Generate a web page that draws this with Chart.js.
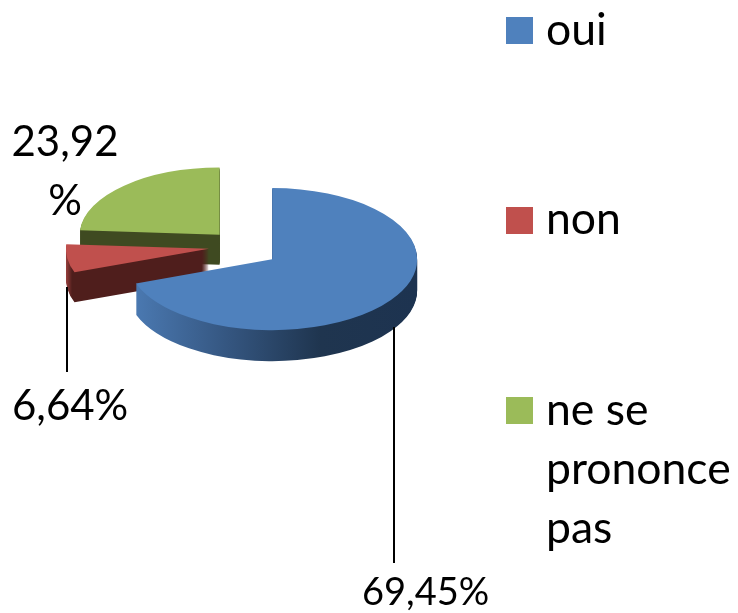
<!DOCTYPE html>
<html><head><meta charset="utf-8">
<style>html,body{margin:0;padding:0;background:#fff}canvas{display:block}</style>
<script src="https://cdn.jsdelivr.net/npm/chart.js@4/dist/chart.umd.min.js"></script>
</head><body>
<canvas id="c" width="738" height="613"></canvas>
<script>
const categories = ['oui', 'non', 'ne se prononce pas'];
const values = [69.45, 6.64, 23.92];
const colors = ['#4F81BD', '#C0504D', '#9BBB59'];
const legendLines = [['oui'], ['non'], ['ne se', 'prononce', 'pas']];
const valueLabels = [['69,45%'], ['6,64%'], ['23,92', '%']];

const FAMILY = 'Lato, Carlito, sans-serif';
const LEGEND_SIZE = 44.5, EXPLODE = 35;
// perspective: back slices look a little smaller and flatter than the front one
const sliceScale = [1, 0.986, 0.965];
const sliceTilt = [0.49, 0.48, 0.48];
const sliceDepth = [31, 30, 30];
const sliceShift = [1.5, -1.5, -1];
// side-wall shading per slice: horizontal gradient stops [screen x, colour]
const sideStops = [
  [[137, '#4A78B0'], [230, '#34557F'], [320, '#1F354F'], [417, '#1D3350']],
  [[64, '#B04A47'], [72, '#4F1E1C'], [209, '#4F1E1C']],
  [[80, '#3F4A21'], [220, '#3F4A21']]
];
const legendPos = [{x: 506, y: 17, base: 45}, {x: 506, y: 207, base: 234}, {x: 506, y: 397, base: 425}];
const labelPos = [
  {align: 'left', x: 362, size: 38, base: [605]},
  {align: 'left', x: 12, size: 42, base: [420]},
  {align: 'center', x: 65, size: 42, base: [156, 215]}
];
const leaders = [[394, 327, 563], [67, 287, 372]];

const pie3d = {
  id: 'pie3d',
  beforeDatasetDraw(chart, args) {
    const ctx = chart.ctx;
    const arcs = args.meta.data;
    const cx = arcs[0].x, cy = arcs[0].y;
    // back to front: green, red, blue
    [2, 1, 0].forEach(i => {
      const arc = arcs[i];
      const s = sliceScale[i], t = sliceTilt[i];
      const mid = (arc.startAngle + arc.endAngle) / 2;
      const ax = cx + Math.cos(mid) * EXPLODE;
      const ay = cy + Math.sin(mid) * EXPLODE * 0.48 + sliceShift[i];
      const base = arc.options;
      const stops = sideStops[i];
      const x0 = stops[0][0], x1 = stops[stops.length - 1][0];
      const toLocal = x => (x - ax) / s + cx;
      const g = ctx.createLinearGradient(toLocal(x0), 0, toLocal(x1), 0);
      stops.forEach(p => g.addColorStop((p[0] - x0) / (x1 - x0), p[1]));
      for (let d = sliceDepth[i]; d >= 0; d--) {
        ctx.save();
        ctx.translate(ax, ay + d);
        ctx.scale(s, s * t);
        ctx.translate(-cx, -cy);
        arc.options = Object.assign(Object.create(base), {backgroundColor: d === 0 ? base.backgroundColor : g});
        arc.draw(ctx);
        ctx.restore();
      }
      arc.options = base;
    });
    return false;
  },
  afterDatasetsDraw(chart) {
    const ctx = chart.ctx;
    ctx.save();
    ctx.strokeStyle = '#000';
    ctx.lineWidth = 2;
    leaders.forEach(l => {
      ctx.beginPath();
      ctx.moveTo(l[0], l[1]);
      ctx.lineTo(l[0], l[2]);
      ctx.stroke();
    });
    ctx.fillStyle = '#000';
    ctx.textBaseline = 'alphabetic';
    valueLabels.forEach((lines, i) => {
      ctx.font = labelPos[i].size + 'px ' + FAMILY;
      ctx.textAlign = labelPos[i].align;
      lines.forEach((txt, j) => ctx.fillText(txt, labelPos[i].x, labelPos[i].base[j]));
    });
    ctx.textAlign = 'left';
    ctx.font = LEGEND_SIZE + 'px ' + FAMILY;
    categories.forEach((c, i) => {
      const p = legendPos[i];
      ctx.fillStyle = colors[i];
      ctx.fillRect(p.x, p.y, 27, 27);
      ctx.fillStyle = '#000';
      legendLines[i].forEach((txt, j) => ctx.fillText(txt, 546, p.base + j * 59));
    });
    ctx.restore();
  }
};

new Chart(document.getElementById('c'), {
  type: 'pie',
  data: {
    labels: categories,
    datasets: [{data: values, backgroundColor: colors, borderWidth: 0, radius: 145}]
  },
  options: {
    responsive: false,
    animation: false,
    layout: {padding: {left: 0, top: 0, right: 251, bottom: 117}},
    plugins: {legend: {display: false}, tooltip: {enabled: false}}
  },
  plugins: [pie3d]
});
</script>
</body></html>
